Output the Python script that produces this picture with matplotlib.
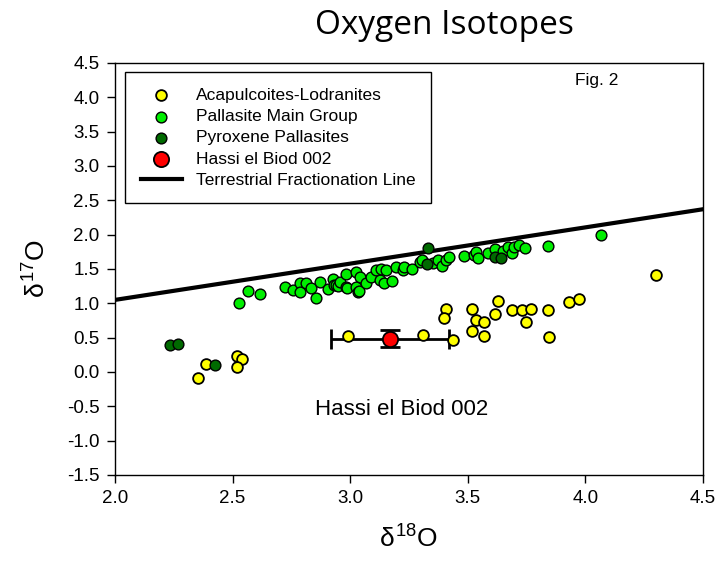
import numpy as np
import matplotlib.pyplot as plt

plt.rcParams['font.family'] = ['Liberation Sans', 'DejaVu Sans']
plt.rcParams['mathtext.fontset'] = 'custom'
plt.rcParams['mathtext.rm'] = 'Liberation Sans'
plt.rcParams['mathtext.it'] = 'Liberation Sans'

# Acapulcoites-Lodranites
acap_x = [2.354, 2.389, 2.517, 2.542, 2.517, 2.99, 3.309, 3.436, 3.408, 3.398,
          3.517, 3.517, 3.535, 3.567, 3.570, 3.617, 3.627, 3.688, 3.729, 3.747,
          3.769, 3.839, 3.846, 3.931, 3.971, 4.30]
acap_y = [-0.087, 0.122, 0.229, 0.195, 0.073, 0.52, 0.535, 0.47, 0.924, 0.78,
          0.924, 0.598, 0.764, 0.525, 0.729, 0.841, 1.035, 0.90, 0.90, 0.729,
          0.914, 0.90, 0.51, 1.02, 1.064, 1.41]

# Pallasite Main Group
pmg_x = [2.526, 2.566, 2.615, 2.722, 2.757, 2.785, 2.785, 2.814, 2.835, 2.856,
         2.873, 2.905, 2.927, 2.930, 2.941, 2.948, 2.955, 2.983, 2.983, 2.986,
         3.026, 3.026, 3.033, 3.037, 3.040, 3.068, 3.090, 3.111, 3.125, 3.132,
         3.142, 3.153, 3.179, 3.196, 3.224, 3.227, 3.264, 3.295, 3.306, 3.351,
         3.372, 3.391, 3.408, 3.422, 3.483, 3.528, 3.535, 3.542, 3.585, 3.617,
         3.651, 3.669, 3.688, 3.698, 3.719, 3.742, 3.843, 4.068]
pmg_y = [1.006, 1.18, 1.14, 1.24, 1.19, 1.29, 1.17, 1.30, 1.216, 1.08,
         1.31, 1.205, 1.36, 1.27, 1.264, 1.25, 1.31, 1.434, 1.24, 1.216,
         1.458, 1.24, 1.17, 1.176, 1.385, 1.29, 1.376, 1.49, 1.337, 1.497,
         1.297, 1.482, 1.322, 1.53, 1.48, 1.53, 1.507, 1.60, 1.638, 1.59,
         1.63, 1.547, 1.63, 1.68, 1.686, 1.70, 1.75, 1.653, 1.735, 1.784,
         1.76, 1.823, 1.726, 1.823, 1.847, 1.807, 1.837, 1.99]

# Pyroxene Pallasites
pyx_x = [2.233, 2.266, 2.424, 3.33, 3.326, 3.617, 3.641]
pyx_y = [0.40, 0.414, 0.108, 1.80, 1.566, 1.68, 1.665]

# Hassi el Biod 002
heb_x = [3.17]
heb_y = [0.487]
heb_xerr = [0.25]
heb_yerr = [0.12]

# Terrestrial Fractionation Line
tfl_x = [2.0, 4.5]
tfl_y = [1.05, 2.37]

fig = plt.figure(figsize=(7.21, 5.67), dpi=100)
ax = fig.add_axes([0.1595, 0.1623, 0.8155, 0.7266])

ax.plot(tfl_x, tfl_y, color='black', lw=3, label='Terrestrial Fractionation Line', zorder=2)
ax.errorbar(heb_x, heb_y, xerr=heb_xerr, yerr=heb_yerr, fmt='none', ecolor='black',
            elinewidth=2, capsize=7, capthick=2, zorder=3)
ax.scatter(acap_x, acap_y, s=60, c='#ffff00', edgecolors='black', linewidths=1.3,
           label='Acapulcoites-Lodranites', zorder=4)
ax.scatter(pmg_x, pmg_y, s=60, c='#00ee00', edgecolors='black', linewidths=1.0,
           label='Pallasite Main Group', zorder=4)
ax.scatter(pyx_x, pyx_y, s=60, c='#006a00', edgecolors='black', linewidths=1.0,
           label='Pyroxene Pallasites', zorder=5)
ax.scatter(heb_x, heb_y, s=120, c='#ff0000', edgecolors='black', linewidths=1.3,
           label='Hassi el Biod 002', zorder=6)

ax.set_xlim(2.0, 4.5)
ax.set_ylim(-1.5, 4.5)
ax.set_xticks(np.arange(2.0, 4.51, 0.5))
ax.set_yticks(np.arange(-1.5, 4.51, 0.5))
ax.xaxis.set_major_formatter(plt.FormatStrFormatter('%.1f'))
ax.yaxis.set_major_formatter(plt.FormatStrFormatter('%.1f'))
ax.tick_params(direction='out', length=6, width=1, labelsize=13.5, pad=5)
for s in ax.spines.values():
    s.set_linewidth(1)

ax.set_xlabel(r'$\delta^{18}$O', fontsize=19, labelpad=13)
ax.set_ylabel(r'$\delta^{17}$O', fontsize=19, labelpad=12)
fig.text(0.617, 0.955, 'Oxygen Isotopes', ha='center', va='center', fontsize=24,
         family=['Open Sans', 'DejaVu Sans'])

ax.text(3.22, -0.55, 'Hassi el Biod 002', ha='center', va='center', fontsize=16)
ax.text(4.05, 4.25, 'Fig. 2', ha='center', va='center', fontsize=12.5)

handles, labels = ax.get_legend_handles_labels()
order = [1, 2, 3, 4, 0]
leg = ax.legend([handles[i] for i in order], [labels[i] for i in order],
                loc='upper left', bbox_to_anchor=(0.017, 0.978), borderaxespad=0,
                fancybox=False, edgecolor='black', fontsize=12.5, handlelength=2.4,
                handletextpad=0.8, borderpad=0.9, labelspacing=0.35, framealpha=1)
leg.get_frame().set_linewidth(1)

fig.savefig('out.png', dpi=100)
